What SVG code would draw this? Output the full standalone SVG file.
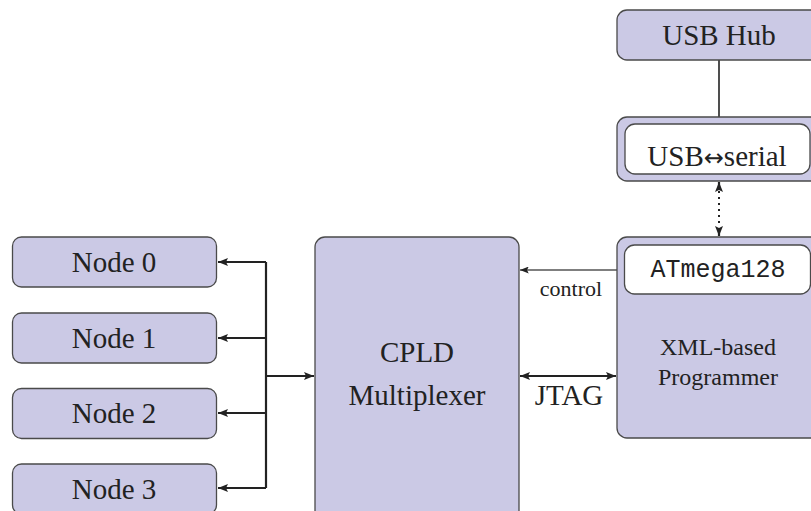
<svg xmlns="http://www.w3.org/2000/svg" width="811" height="511" viewBox="0 0 811 511">
  <defs>
    <style>
      .box { fill: #cbc9e5; stroke: #4a4a4a; stroke-width: 1.3; }
      .inner { fill: #ffffff; stroke: #4a4a4a; stroke-width: 1.3; }
      .lbl { font-family: 'Liberation Serif', 'Times New Roman', 'DejaVu Serif', serif; fill: #222; text-anchor: middle; }
      .big { font-size: 29px; }
      .mid { font-size: 24px; }
      .small { font-size: 22px; }
      .arr { font-family: 'DejaVu Sans', sans-serif; font-size: 24px; }
      .mono { font-family: 'Liberation Mono', 'Courier New', 'DejaVu Sans Mono', monospace; font-size: 25px; fill: #222; text-anchor: middle; }
      .bus { fill: none; stroke: #222; stroke-width: 2.2; }
      .thin { fill: none; stroke: #555; stroke-width: 1.3; }
      .dot { fill: none; stroke: #222; stroke-width: 2; stroke-dasharray: 2 4; }
    </style>
    <marker id="ah" viewBox="0 0 10 8" refX="10" refY="4" markerWidth="10" markerHeight="8" markerUnits="userSpaceOnUse" orient="auto-start-reverse">
      <path d="M0,0 L10,4 L0,8 L2,4 Z" fill="#222"/>
    </marker>
    <marker id="ahs" viewBox="0 0 10 8" refX="10" refY="4" markerWidth="9" markerHeight="7" markerUnits="userSpaceOnUse" orient="auto-start-reverse">
      <path d="M0,0 L10,4 L0,8 L2,4 Z" fill="#222"/>
    </marker>
  </defs>

  <!-- connectors -->
  <g id="connectors">
    <path class="bus" d="M266,262 V488"/>
    <path class="bus" d="M266,262 H218" marker-end="url(#ah)"/>
    <path class="bus" d="M266,338 H218" marker-end="url(#ah)"/>
    <path class="bus" d="M266,413 H218" marker-end="url(#ah)"/>
    <path class="bus" d="M266,488 H218" marker-end="url(#ah)"/>
    <path class="bus" d="M266,376 H314" marker-end="url(#ah)"/>
    <path class="bus" d="M520,376 H616" marker-start="url(#ah)" marker-end="url(#ah)"/>
    <path class="thin" d="M624,270 H520" marker-end="url(#ahs)"/>
    <path class="thin" d="M719,60 V117" style="stroke:#222;stroke-width:1.6"/>
    <path class="dot" d="M719,191 V227"/>
    <path class="bus" d="M719,190 V182" marker-end="url(#ah)"/>
    <path class="bus" d="M719,228 V236" marker-end="url(#ah)"/>
    <text class="lbl small" x="571" y="296">control</text>
    <text class="lbl big" x="569" y="405">JTAG</text>
  </g>

  <!-- left nodes -->
  <g id="node0">
    <rect class="box" x="12.5" y="237" width="204" height="50" rx="9"/>
    <text class="lbl big" x="114" y="272">Node 0</text>
  </g>
  <g id="node1">
    <rect class="box" x="12.5" y="313" width="204" height="50" rx="9"/>
    <text class="lbl big" x="114" y="348">Node 1</text>
  </g>
  <g id="node2">
    <rect class="box" x="12.5" y="388.5" width="204" height="50" rx="9"/>
    <text class="lbl big" x="114" y="423">Node 2</text>
  </g>
  <g id="node3">
    <rect class="box" x="12.5" y="464" width="204" height="50" rx="9"/>
    <text class="lbl big" x="114" y="499">Node 3</text>
  </g>

  <!-- multiplexer -->
  <g id="cpld">
    <rect class="box" x="315" y="237" width="204" height="290" rx="10"/>
    <text class="lbl big" x="417" y="362">CPLD</text>
    <text class="lbl big" x="417" y="405">Multiplexer</text>
  </g>

  <!-- programmer with microcontroller -->
  <g id="programmer">
    <rect class="box" x="617" y="237" width="220" height="201" rx="10"/>
    <rect class="inner" x="624.5" y="245" width="186" height="49" rx="10"/>
    <text class="mono" x="718" y="277" textLength="135" lengthAdjust="spacingAndGlyphs">ATmega128</text>
    <text class="lbl mid" x="718" y="355">XML-based</text>
    <text class="lbl mid" x="718" y="385">Programmer</text>
  </g>

  <!-- USB serial bridge -->
  <g id="usbserial">
    <rect class="box" x="617" y="117" width="220" height="64" rx="10"/>
    <rect class="inner" x="625" y="124" width="185" height="50" rx="10"/>
    <text class="lbl big" x="717" y="166">USB<tspan class="arr">↔</tspan>serial</text>
  </g>

  <!-- hub -->
  <g id="usbhub">
    <rect class="box" x="617" y="10" width="220" height="50" rx="10"/>
    <text class="lbl big" x="719" y="45">USB Hub</text>
  </g>
</svg>
